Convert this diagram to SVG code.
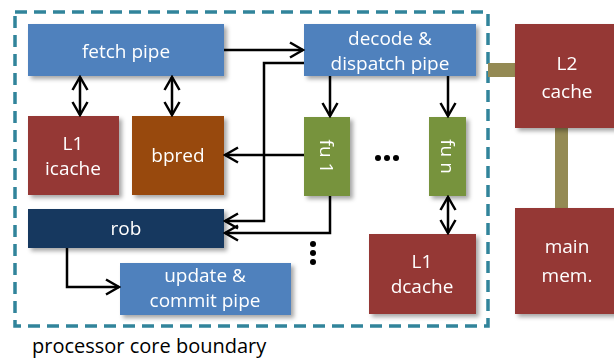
<svg xmlns="http://www.w3.org/2000/svg" width="614" height="360" viewBox="0 0 614 360">
<style>
.lbl{font-family:"Open Sans","Noto Sans","DejaVu Sans",sans-serif;font-size:19px;fill:#fff;text-anchor:middle}
.box{filter:url(#sh)}
.ln{fill:none;stroke:#000;stroke-width:2.5}
.dot{fill:#000}
</style>
<defs>
<filter id="sh" x="-20%" y="-20%" width="140%" height="140%">
<feDropShadow dx="3" dy="3" stdDeviation="2" flood-color="#000" flood-opacity="0.35"/>
</filter>
<marker id="ah" markerUnits="userSpaceOnUse" viewBox="0 0 16 18" refX="14" refY="9" markerWidth="16" markerHeight="18" orient="auto-start-reverse">
<path d="M1,1.5 L14,9 L1,16.5" fill="none" stroke="#000" stroke-width="2.5"/>
</marker>
</defs>
<rect x="15" y="12" width="473" height="314" fill="none" stroke="#31849B" stroke-width="3.5" stroke-dasharray="12 7"/>
<g id="links">
<rect x="488" y="63" width="27" height="14" fill="#948A54"/>
<rect x="555" y="128" width="13" height="80" fill="#948A54"/>
</g>
<g id="fetch" class="box"><rect x="28" y="24" width="196" height="52" fill="#4F81BD"/><text class="lbl" x="126" y="58">fetch pipe</text></g>
<g id="icache" class="box"><rect x="28" y="116" width="91" height="79" fill="#953735"/><text class="lbl" x="73" y="150">L1</text><text class="lbl" x="73" y="175">icache</text></g>
<g id="bpred" class="box"><rect x="132" y="116" width="92" height="79" fill="#984807"/><text class="lbl" x="178" y="162">bpred</text></g>
<g id="rob" class="box"><rect x="28" y="209" width="196" height="39" fill="#17375E"/><text class="lbl" x="126" y="235">rob</text></g>
<g id="update" class="box"><rect x="120" y="263" width="171" height="52" fill="#4F81BD"/><text class="lbl" x="205" y="282">update &amp;</text><text class="lbl" x="205" y="307">commit pipe</text></g>
<g id="decode" class="box"><rect x="304" y="24" width="172" height="52" fill="#4F81BD"/><text class="lbl" x="390" y="45">decode &amp;</text><text class="lbl" x="390" y="70">dispatch pipe</text></g>
<g id="fu1" class="box"><rect x="304" y="117" width="46" height="79" fill="#77933C"/><text class="lbl" transform="translate(320,156.5) rotate(90)">fu 1</text></g>
<g id="fun" class="box"><rect x="429" y="117" width="37" height="79" fill="#77933C"/><text class="lbl" transform="translate(441,156.5) rotate(90)">fu n</text></g>
<g id="dcache" class="box"><rect x="369" y="234" width="107" height="80" fill="#953735"/><text class="lbl" x="422" y="268">L1</text><text class="lbl" x="422" y="293">dcache</text></g>
<g id="l2" class="box"><rect x="515" y="24" width="110" height="104" fill="#953735"/><text class="lbl" x="567" y="70">L2</text><text class="lbl" x="567" y="98">cache</text></g>
<g id="mem" class="box"><rect x="515" y="208" width="110" height="106" fill="#953735"/><text class="lbl" x="567" y="253">main</text><text class="lbl" x="567" y="282">mem.</text></g>
<g id="connectors">
<path class="ln" d="M224,50 H303" marker-end="url(#ah)"/>
<path class="ln" d="M330,76 V116" marker-end="url(#ah)"/>
<path class="ln" d="M448,76 V116" marker-end="url(#ah)"/>
<path class="ln" d="M80,77 V115" marker-start="url(#ah)" marker-end="url(#ah)"/>
<path class="ln" d="M172,77 V115" marker-start="url(#ah)" marker-end="url(#ah)"/>
<path class="ln" d="M448,197 V233" marker-start="url(#ah)" marker-end="url(#ah)"/>
<path class="ln" d="M304,155 H225" marker-end="url(#ah)"/>
<path class="ln" d="M304,63 H264 V221 H225" marker-end="url(#ah)"/>
<path class="ln" d="M330,196 V233 H225" marker-end="url(#ah)"/>
<path class="ln" d="M67,248 V287 H119" marker-end="url(#ah)"/>
</g>
<g id="dots">
<circle class="dot" cx="378" cy="158" r="3"/><circle class="dot" cx="387" cy="158" r="3"/><circle class="dot" cx="396" cy="158" r="3"/>
<circle class="dot" cx="313" cy="244" r="3"/><circle class="dot" cx="313" cy="253" r="3"/><circle class="dot" cx="313" cy="262" r="3"/>
</g>
<text x="32" y="353" style="font-family:'Open Sans','Noto Sans',sans-serif;font-size:20px;fill:#000">processor core boundary</text>
</svg>
